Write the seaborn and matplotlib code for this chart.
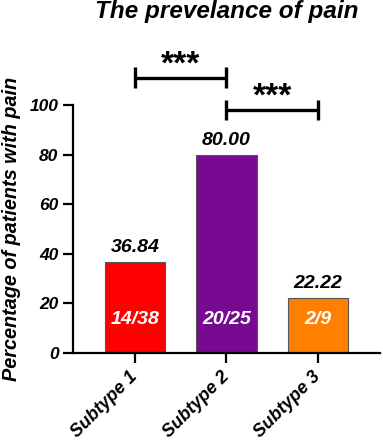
import matplotlib
matplotlib.use("Agg")
import matplotlib.pyplot as plt
import seaborn as sns
import pandas as pd

subtypes = ["Subtype 1", "Subtype 2", "Subtype 3"]
percent = [36.84, 80.00, 22.22]
counts = ["14/38", "20/25", "2/9"]
colours = ["#FF0000", "#780A91", "#FF8000"]
# significance brackets: (from bar, to bar, height, label)
brackets = [(0, 1, 111, "***"), (1, 2, 98, "***")]

sns.set_style("ticks")
plt.rcParams['font.family'] = ['Liberation Sans', 'DejaVu Sans']
plt.rcParams['font.weight'] = 'bold'
plt.rcParams['font.style'] = 'italic'
for k in ('text.color', 'axes.labelcolor', 'xtick.color', 'ytick.color'):
    plt.rcParams[k] = 'black'

df = pd.DataFrame({'Subtype': subtypes, 'Percent': percent})

fig = plt.figure(figsize=(3.83, 4.43), dpi=100)
ax = fig.add_axes([0.1906, 0.2032, 0.8014, 0.5598])

sns.barplot(data=df, x='Subtype', y='Percent', hue='Subtype', palette=colours,
            legend=False, width=0.66, edgecolor='#555555', linewidth=0.8,
            saturation=1, ax=ax)

for i, (p, c) in enumerate(zip(percent, counts)):
    ax.text(i, p + 2.2, f"{p:.2f}", ha='center', va='bottom', fontsize=14,
            fontweight='bold', fontstyle='italic', color='black')
    ax.text(i, 13.3, c, ha='center', va='center', fontsize=14,
            fontweight='bold', fontstyle='italic', color='white')

for x0, x1, h, lab in brackets:
    ax.plot([x0, x1], [h, h], color='black', lw=2.4, clip_on=False,
            solid_capstyle='butt')
    for xx in (x0, x1):
        ax.plot([xx, xx], [h - 4.2, h + 4.2], color='black', lw=2.4,
                clip_on=False, solid_capstyle='butt')
    ax.text((x0 + x1) / 2, h + 1.8, lab, ha='center', va='baseline',
            fontsize=24, fontweight='bold', fontstyle='normal', color='black')

ax.set_ylim(0, 100)
ax.set_xlim(-0.68, 2.68)
ax.set_yticks([0, 20, 40, 60, 80, 100])
ax.set_xlabel('')
ax.set_ylabel('Percentage of patients with pain', fontsize=14.3,
              fontweight='bold', fontstyle='italic', labelpad=6)
fig.text(0.593, 0.9594, 'The prevelance of pain', ha='center', va='baseline',
         fontsize=17.5, fontweight='bold', fontstyle='italic')

for lab in ax.get_xticklabels():
    lab.set_rotation(45)
    lab.set_ha('right')
    lab.set_va('center')
    lab.set_rotation_mode('anchor')
ax.tick_params(axis='both', labelsize=12.5, width=1.6, length=7)
ax.tick_params(axis='x', labelsize=13, pad=8)
for lab in ax.get_xticklabels() + ax.get_yticklabels():
    lab.set_fontweight('bold')
    lab.set_fontstyle('italic')

sns.despine(ax=ax)
for s in ('left', 'bottom'):
    ax.spines[s].set_linewidth(1.6)
    ax.spines[s].set_color('black')

fig.savefig('out.png', dpi=100)
